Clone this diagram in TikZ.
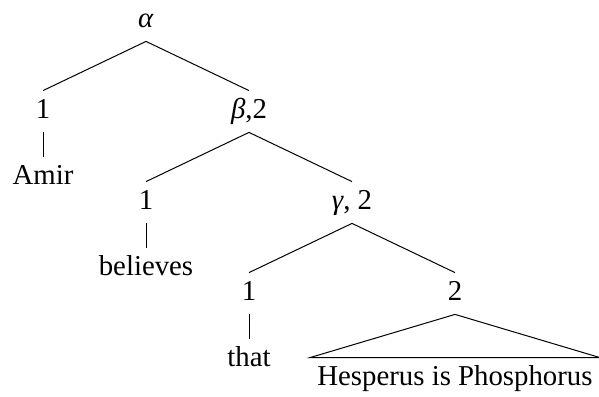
\documentclass[tikz,border=0pt]{standalone}
\usepackage{fontspec}
\setmainfont{Liberation Serif}
\usetikzlibrary{positioning}

\begin{document}
\begin{tikzpicture}[
    node distance=45.5pt and 51.5pt, on grid,
    lbl/.style={inner sep=3.5pt, text height=10pt, text depth=3.5pt, font=\fontsize{14.4}{17}\selectfont},
    branch/.style={line width=0.5pt}
]
\useasboundingbox (0,0) rectangle (299.5pt,-198pt);

% Root and first level
\node[lbl] (alpha) at (73pt,-10.25pt) {\textit{α}};
\node[lbl, below left=of alpha] (one1) {1};
\node[lbl, below right=of alpha] (beta) {\textit{β},2};
\node[lbl, below=33pt of one1] (amir) {Amir};

% Second level
\node[lbl, below left=of beta] (one2) {1};
\node[lbl, below right=of beta] (gamma) {\textit{γ}, 2};
\node[lbl, below=33pt of one2] (believes) {believes};

% Third level
\node[lbl, below left=of gamma] (one3) {1};
\node[lbl, below right=of gamma] (two3) {2};
\node[lbl, below=33pt of one3] (that) {that};
\node[lbl, below=42.5pt of two3] (hesp) {Hesperus is Phosphorus};

% Branches
\draw[branch] (alpha.south) -- (one1.north);
\draw[branch] (alpha.south) -- (beta.north);
\draw[branch] (one1.south) -- (amir.north);
\draw[branch] (beta.south) -- (one2.north);
\draw[branch] (beta.south) -- (gamma.north);
\draw[branch] (one2.south) -- (believes.north);
\draw[branch] (gamma.south) -- (one3.north);
\draw[branch] (gamma.south) -- (two3.north);
\draw[branch] (one3.south) -- (that.north);

% Triangle over the clause
\draw[branch] (two3.south) -- (hesp.north west) -- (hesp.north east) -- cycle;

\end{tikzpicture}
\end{document}
